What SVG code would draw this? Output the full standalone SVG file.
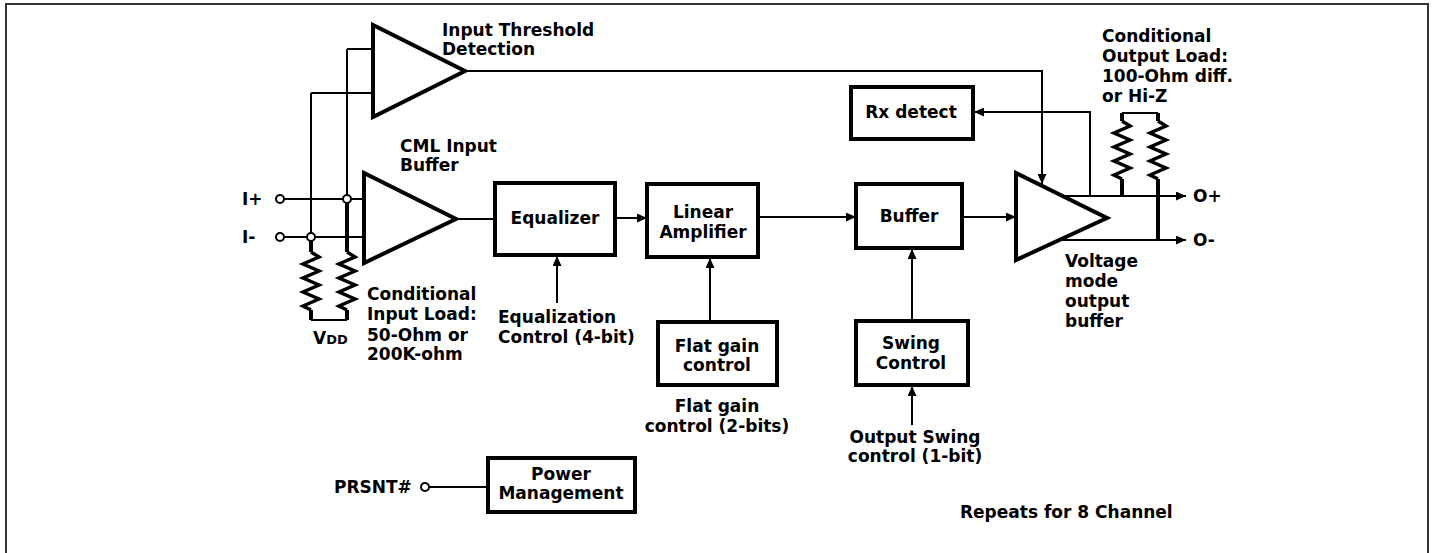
<svg xmlns="http://www.w3.org/2000/svg" width="1432" height="553" viewBox="0 0 1432 553">
<style>
.t{font-family:"DejaVu Sans","Liberation Sans",sans-serif;font-weight:bold;font-size:17px;fill:#000}
.c{text-anchor:middle}
.box{fill:#fff;stroke:#000;stroke-width:4}
.tri{fill:#fff;stroke:#000;stroke-width:4;stroke-linejoin:miter}
.w{fill:none;stroke:#000;stroke-width:2}
.th{fill:none;stroke:#000;stroke-width:4}
.zz{fill:none;stroke:#000;stroke-width:3.5;stroke-linejoin:miter}
.dot{fill:#fff;stroke:#000;stroke-width:2}
</style>
<defs>
<marker id="ar" markerUnits="userSpaceOnUse" markerWidth="10" markerHeight="9" refX="10" refY="4.5" orient="auto">
<path d="M0,0 L10,4.5 L0,9 z" fill="#000"/>
</marker>
</defs>
<rect x="6" y="4" width="1422" height="600" fill="#fff" stroke="#333" stroke-width="2"/>

<g id="connectors">
<path class="w" d="M284,199 H364 M284,237 H364"/>
<path class="w" d="M347,49 H373 M347,49 V199 M311,93 H373 M311,93 V237"/>
<path class="w" d="M456,219 H495"/>
<path class="w" d="M615,218 H647" marker-end="url(#ar)"/>
<path class="w" d="M557,303 V256" marker-end="url(#ar)"/>
<path class="w" d="M710,322 V258" marker-end="url(#ar)"/>
<path class="w" d="M758,217 H856" marker-end="url(#ar)"/>
<path class="w" d="M962,217 H1016" marker-end="url(#ar)"/>
<path class="w" d="M912,321 V249" marker-end="url(#ar)"/>
<path class="w" d="M912,425 V386" marker-end="url(#ar)"/>
<path class="w" d="M465,71 H1042 V184" marker-end="url(#ar)"/>
<path class="w" d="M1090,196 V112 H974" marker-end="url(#ar)"/>
<path class="w" d="M1062,196 H1186" marker-end="url(#ar)"/>
<path class="w" d="M1060,240 H1186" marker-end="url(#ar)"/>
<path class="w" d="M429,487 H488"/>
</g>

<g id="input-load">
<path class="th" d="M347,199 V252 M311,237 V252"/>
<path class="zz" d="M311,252 L319,257 L303,264 L319,271 L303,278 L319,285 L303,292 L319,299 L303,306 L311,310"/>
<path class="zz" d="M347,252 L355,257 L339,264 L355,271 L339,278 L355,285 L339,292 L355,299 L339,306 L347,310"/>
<path class="th" d="M311,310 V320 M347,310 V320"/>
<path class="w" d="M311,320 H347"/>
<circle class="dot" cx="280" cy="199" r="4"/>
<circle class="dot" cx="280" cy="237" r="4"/>
<circle class="dot" cx="347" cy="199" r="4"/>
<circle class="dot" cx="311" cy="237" r="4"/>
<text class="t" x="242" y="205">I+</text>
<text class="t" x="242" y="243">I-</text>
<text class="t" x="313" y="344">V<tspan font-size="13">DD</tspan></text>
<text class="t" x="367" y="300">Conditional</text>
<text class="t" x="367" y="320">Input Load:</text>
<text class="t" x="367" y="341">50-Ohm or</text>
<text class="t" x="367" y="360">200K-ohm</text>
</g>

<g id="threshold">
<polygon class="tri" points="373,25 373,117 465,71"/>
<text class="t" x="442" y="36">Input Threshold</text>
<text class="t" x="442" y="55">Detection</text>
</g>

<g id="cml-buffer">
<polygon class="tri" points="364,173 364,263 456,219"/>
<text class="t" x="400" y="152">CML Input</text>
<text class="t" x="400" y="171">Buffer</text>
</g>

<g id="equalizer">
<rect class="box" x="495" y="183" width="120" height="72"/>
<text class="t c" x="555" y="224">Equalizer</text>
</g>
<g id="eq-control">
<text class="t" x="498" y="323">Equalization</text>
<text class="t" x="498" y="343">Control (4-bit)</text>
</g>

<g id="linear-amp">
<rect class="box" x="647" y="184" width="111" height="73"/>
<text class="t c" x="703" y="218">Linear</text>
<text class="t c" x="703" y="238">Amplifier</text>
</g>

<g id="flat-gain">
<rect class="box" x="658" y="322" width="119" height="63"/>
<text class="t c" x="717" y="352">Flat gain</text>
<text class="t c" x="717" y="371">control</text>
<text class="t c" x="717" y="412">Flat gain</text>
<text class="t c" x="717" y="432">control (2-bits)</text>
</g>

<g id="rx-detect">
<rect class="box" x="851" y="87" width="122" height="52"/>
<text class="t c" x="911" y="118" font-size="14.5">Rx detect</text>
</g>

<g id="buffer">
<rect class="box" x="856" y="184" width="106" height="64"/>
<text class="t c" x="909" y="222">Buffer</text>
</g>

<g id="swing">
<rect class="box" x="856" y="321" width="112" height="64"/>
<text class="t c" x="911" y="349">Swing</text>
<text class="t c" x="911" y="369">Control</text>
<text class="t c" x="915" y="443">Output Swing</text>
<text class="t c" x="915" y="462">control (1-bit)</text>
</g>

<g id="output-buffer">
<polygon class="tri" points="1016,173 1016,260 1107,218"/>
<text class="t" x="1065" y="267">Voltage</text>
<text class="t" x="1065" y="287">mode</text>
<text class="t" x="1065" y="307">output</text>
<text class="t" x="1065" y="327">buffer</text>
<text class="t" x="1193" y="202">O+</text>
<text class="t" x="1193" y="246">O-</text>
</g>

<g id="output-load">
<path class="w" d="M1122,113 H1158"/>
<path class="th" d="M1122,113 V121 M1158,113 V121"/>
<path class="zz" d="M1122,121 L1130,126 L1114,133 L1130,140 L1114,147 L1130,154 L1114,161 L1130,168 L1114,175 L1122,179"/>
<path class="zz" d="M1158,121 L1166,126 L1150,133 L1166,140 L1150,147 L1166,154 L1150,161 L1166,168 L1150,175 L1158,179"/>
<path class="th" d="M1122,179 V196 M1158,179 V240"/>
<text class="t" x="1102" y="42">Conditional</text>
<text class="t" x="1102" y="62">Output Load:</text>
<text class="t" x="1102" y="82">100-Ohm diff.</text>
<text class="t" x="1102" y="102">or Hi-Z</text>
</g>

<g id="power">
<circle class="dot" cx="425" cy="487" r="4"/>
<text class="t" x="334" y="493">PRSNT#</text>
<rect class="box" x="488" y="458" width="147" height="54"/>
<text class="t c" x="561" y="480">Power</text>
<text class="t c" x="561" y="499">Management</text>
</g>

<g id="note">
<text class="t" x="960" y="518" font-size="16">Repeats for 8 Channel</text>
</g>
</svg>
